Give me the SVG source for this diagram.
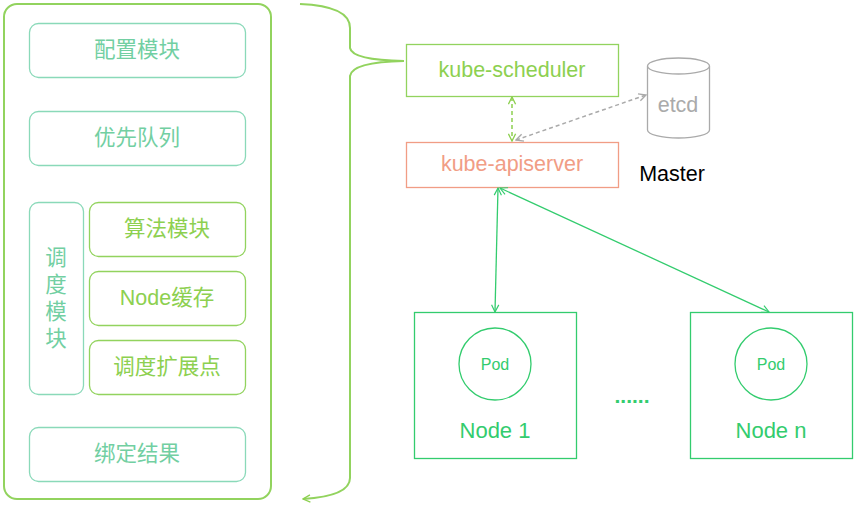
<svg xmlns="http://www.w3.org/2000/svg" width="855" height="507" viewBox="0 0 855 507">
<style>
text{font-family:"Liberation Sans","Noto Sans CJK SC",sans-serif;text-anchor:middle;dominant-baseline:central}
.teal{fill:none;stroke:#8ad9b9;stroke-width:1.3}
.lg{fill:none;stroke:#92d35e;stroke-width:1.3}
.tt{fill:#72cfa2;font-size:21.5px}
.gt{fill:#8dd050;font-size:21.5px}
.ng{fill:none;stroke:#33cc6e;stroke-width:1.3}
</style>
<defs>
<marker id="ag" viewBox="0 0 10 10" refX="9" refY="5" markerWidth="9" markerHeight="9" orient="auto-start-reverse" markerUnits="userSpaceOnUse"><path d="M1,1 L9,5 L1,9" fill="none" stroke="#33cc6e" stroke-width="1.3"/></marker>
<marker id="al" viewBox="0 0 10 10" refX="9" refY="5" markerWidth="9" markerHeight="9" orient="auto-start-reverse" markerUnits="userSpaceOnUse"><path d="M1,1 L9,5 L1,9" fill="none" stroke="#8dd050" stroke-width="1.5"/></marker>
<marker id="ay" viewBox="0 0 10 10" refX="9" refY="5" markerWidth="9" markerHeight="9" orient="auto-start-reverse" markerUnits="userSpaceOnUse"><path d="M1,1 L9,5 L1,9" fill="none" stroke="#aaaaaa" stroke-width="1.5"/></marker>
</defs>
<g id="scheduler-frame"><rect x="4" y="4" width="267" height="495" rx="13" fill="none" stroke="#92d35e" stroke-width="2"/></g>
<g id="config"><rect class="teal" x="29.5" y="23.5" width="216" height="54" rx="9"/><text class="tt" x="137" y="50">配置模块</text></g>
<g id="queue"><rect class="teal" x="29.5" y="111.5" width="216" height="54" rx="9"/><text class="tt" x="137" y="138">优先队列</text></g>
<g id="sched-module"><rect class="teal" x="29.5" y="202.5" width="54" height="192" rx="9"/>
<text class="tt" x="56" y="258">调</text><text class="tt" x="56" y="285">度</text><text class="tt" x="56" y="312">模</text><text class="tt" x="56" y="339">块</text></g>
<g id="algo"><rect class="lg" x="89.5" y="202.5" width="156" height="54" rx="9"/><text class="gt" x="167" y="229">算法模块</text></g>
<g id="nodecache"><rect class="lg" x="89.5" y="271.5" width="156" height="54" rx="9"/><text class="gt" x="167" y="298">Node缓存</text></g>
<g id="extender"><rect class="lg" x="89.5" y="340.5" width="156" height="54" rx="9"/><text class="gt" x="167" y="367">调度扩展点</text></g>
<g id="bind"><rect class="teal" x="29.5" y="427.5" width="216" height="54" rx="9"/><text class="tt" x="137" y="454">绑定结果</text></g>
<g id="kube-scheduler"><rect x="406.5" y="44.5" width="212" height="52" fill="none" stroke="#92d35e" stroke-width="1.3"/><text x="512" y="70" font-size="21.5" fill="#8dd050">kube-scheduler</text></g>
<g id="kube-apiserver"><rect x="406.5" y="142.5" width="212" height="45" fill="none" stroke="#f19d85" stroke-width="1.3"/><text x="512" y="164" font-size="21.5" fill="#f19d85">kube-apiserver</text></g>
<g id="etcd"><path d="M647.5,66 L647.5,130 A31,8 0 0 0 709.5,130 L709.5,66 A31,8 0 0 0 647.5,66 A31,8 0 0 0 709.5,66" fill="none" stroke="#aaaaaa" stroke-width="1.3"/><text x="678" y="105" font-size="21.5" fill="#aaaaaa">etcd</text></g>
<g id="master-label"><text x="672" y="174" font-size="21.5" fill="#000">Master</text></g>
<g id="node1"><rect class="ng" x="414.5" y="312.5" width="162" height="146"/><circle class="ng" cx="495" cy="364" r="36"/><text x="495" y="364" font-size="16" fill="#33cc6e">Pod</text><text x="495" y="430" font-size="22" fill="#33cc6e">Node 1</text></g>
<g id="noden"><rect class="ng" x="690.5" y="312.5" width="162" height="146"/><circle class="ng" cx="771" cy="364" r="36"/><text x="771" y="364" font-size="16" fill="#33cc6e">Pod</text><text x="771" y="430" font-size="22" fill="#33cc6e">Node n</text></g>
<g id="ellipsis"><text x="632" y="395" font-size="21" font-weight="bold" fill="#33cc6e">......</text></g>
<g id="connectors">
<path d="M300,4 Q350,6 350,28 L350,48 Q352,60 404,61 Q352,62 350,76 L350,478 Q350,496 303,499" fill="none" stroke="#92d35e" stroke-width="2" marker-end="url(#al)"/>
<line x1="512" y1="97" x2="512" y2="141" stroke="#8dd050" stroke-width="1.5" stroke-dasharray="4,3" marker-start="url(#al)" marker-end="url(#al)"/>
<line x1="516" y1="140" x2="646" y2="95" stroke="#aaaaaa" stroke-width="1.5" stroke-dasharray="4,3" marker-start="url(#ay)" marker-end="url(#ay)"/>
<line x1="498" y1="188" x2="495" y2="312" stroke="#33cc6e" stroke-width="1.3" marker-start="url(#ag)" marker-end="url(#ag)"/>
<line x1="500" y1="188" x2="769" y2="312" stroke="#33cc6e" stroke-width="1.3" marker-start="url(#ag)" marker-end="url(#ag)"/>
</g>
</svg>
